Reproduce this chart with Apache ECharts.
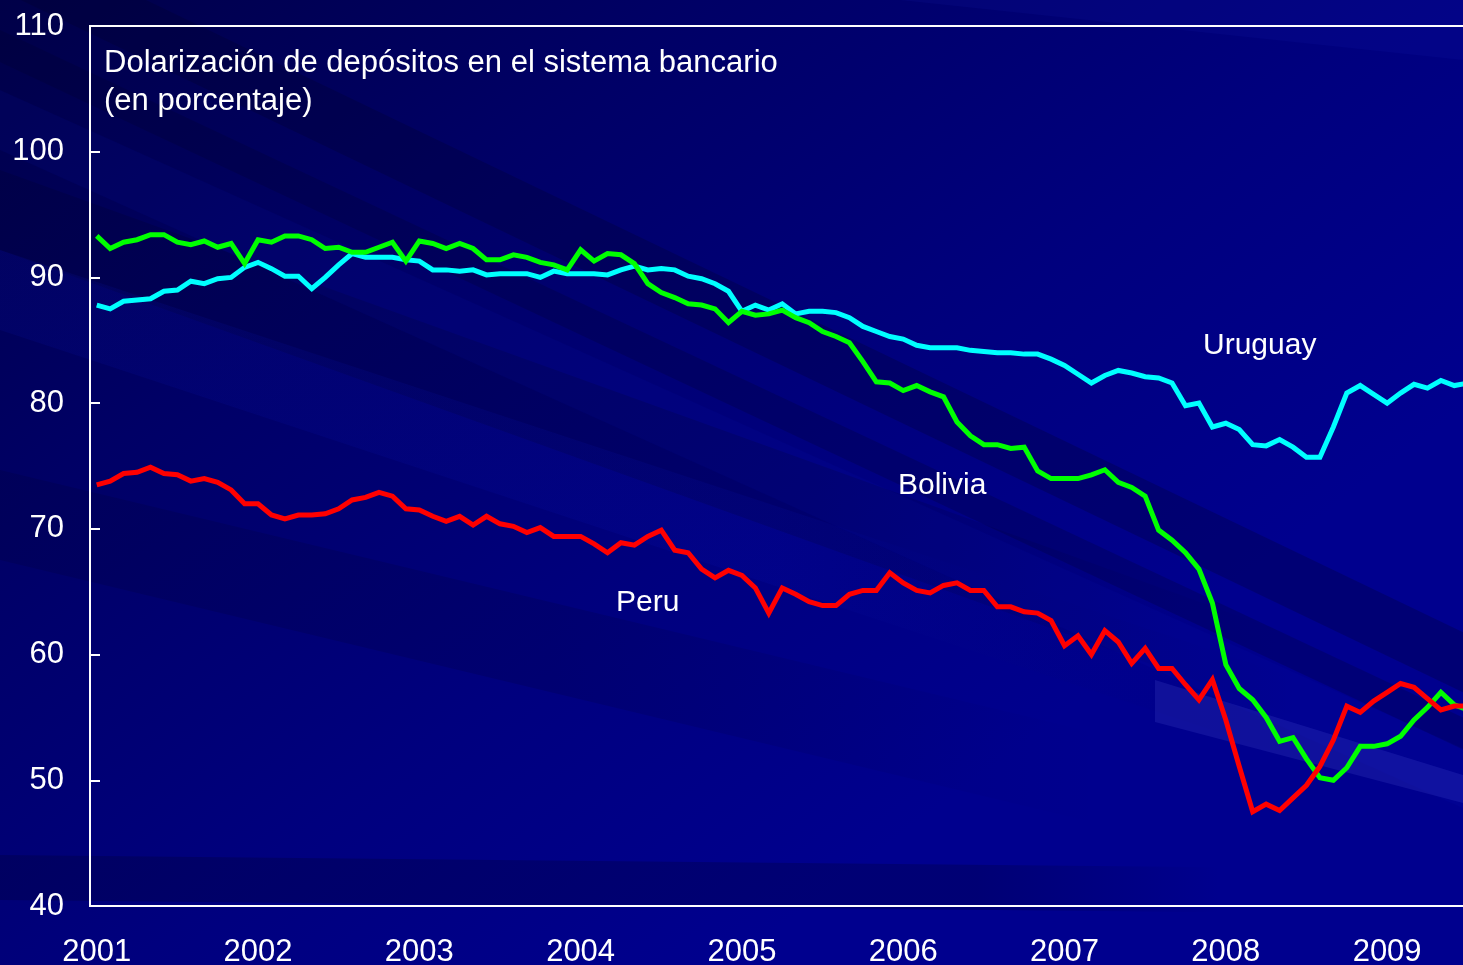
<!DOCTYPE html>
<html>
<head>
<meta charset="utf-8">
<title>Dolarización de depósitos</title>
<script src="https://cdn.jsdelivr.net/npm/echarts@6/dist/echarts.min.js"></script>
<style>
  html, body { margin: 0; padding: 0; background: #000070; }
  #chart { width: 1463px; height: 965px; }
</style>
</head>
<body>
<div id="chart"></div>
<script>
// Monthly deposit dollarization, January 2001 – July 2009 (percent)
const years = ['2001', '2002', '2003', '2004', '2005', '2006', '2007', '2008', '2009'];
const monthsInLastYear = 7;

const uruguay = [
  87.8, 87.5, 88.1, 88.2, 88.3, 88.9, 89.0, 89.7, 89.5, 89.9, 90.0, 90.8,
  91.2, 90.7, 90.1, 90.1, 89.1, 90.0, 91.0, 91.9, 91.6, 91.6, 91.6, 91.4,
  91.3, 90.6, 90.6, 90.5, 90.6, 90.2, 90.3, 90.3, 90.3, 90.0, 90.5, 90.3,
  90.3, 90.3, 90.2, 90.6, 90.9, 90.6, 90.7, 90.6, 90.1, 89.9, 89.5, 88.9,
  87.3, 87.8, 87.4, 87.9, 87.1, 87.3, 87.3, 87.2, 86.8, 86.1, 85.7, 85.3,
  85.1, 84.6, 84.4, 84.4, 84.4, 84.2, 84.1, 84.0, 84.0, 83.9, 83.9, 83.5,
  83.0, 82.3, 81.6, 82.2, 82.6, 82.4, 82.1, 82.0, 81.6, 79.8, 80.0, 78.1,
  78.4, 77.9, 76.7, 76.6, 77.1, 76.5, 75.7, 75.7, 78.1, 80.8, 81.4, 80.7,
  80.0, 80.8, 81.5, 81.2, 81.8, 81.4, 81.6
];

const bolivia = [
  93.3, 92.3, 92.8, 93.0, 93.4, 93.4, 92.8, 92.6, 92.9, 92.4, 92.7, 91.1,
  93.0, 92.8, 93.3, 93.3, 93.0, 92.3, 92.4, 92.0, 92.0, 92.4, 92.8, 91.3,
  92.9, 92.7, 92.3, 92.7, 92.3, 91.4, 91.4, 91.8, 91.6, 91.2, 91.0, 90.6,
  92.2, 91.3, 91.9, 91.8, 91.1, 89.5, 88.8, 88.4, 87.9, 87.8, 87.5, 86.4,
  87.3, 87.0, 87.1, 87.4, 86.8, 86.4, 85.7, 85.3, 84.8, 83.3, 81.7, 81.6,
  81.0, 81.4, 80.9, 80.5, 78.5, 77.4, 76.7, 76.7, 76.4, 76.5, 74.6, 74.0,
  74.0, 74.0, 74.3, 74.7, 73.7, 73.3, 72.6, 69.9, 69.1, 68.1, 66.8, 64.1,
  59.2, 57.3, 56.4, 55.0, 53.1, 53.4, 51.7, 50.2, 50.0, 51.0, 52.7, 52.7,
  52.9, 53.5, 54.8, 55.8, 57.0, 56.0, 55.6
];

const peru = [
  73.5, 73.8, 74.4, 74.5, 74.9, 74.4, 74.3, 73.8, 74.0, 73.7, 73.1, 72.0,
  72.0, 71.1, 70.8, 71.1, 71.1, 71.2, 71.6, 72.3, 72.5, 72.9, 72.6, 71.6,
  71.5, 71.0, 70.6, 71.0, 70.3, 71.0, 70.4, 70.2, 69.7, 70.1, 69.4, 69.4,
  69.4, 68.8, 68.1, 68.9, 68.7, 69.4, 69.9, 68.3, 68.1, 66.8, 66.1, 66.7,
  66.3, 65.3, 63.3, 65.3, 64.8, 64.2, 63.9, 63.9, 64.8, 65.1, 65.1, 66.5,
  65.7, 65.1, 64.9, 65.5, 65.7, 65.1, 65.1, 63.8, 63.8, 63.4, 63.3, 62.7,
  60.7, 61.5, 60.0, 61.9, 61.0, 59.3, 60.5, 58.9, 58.9, 57.6, 56.4, 58.0,
  54.8, 51.1, 47.5, 48.1, 47.6, 48.6, 49.6, 51.1, 53.2, 55.9, 55.4, 56.3,
  57.0, 57.7, 57.4, 56.5, 55.6, 55.9, 55.9
];

const yTicks = { min: 40, max: 110, step: 10 };
const titleLines = ['Dolarización de depósitos en el sistema bancario', '(en porcentaje)'];
const seriesNames = ['Uruguay', 'Bolivia', 'Peru'];

// month categories "YYYY-MM"
const months = [];
years.forEach((y, yi) => {
  const n = yi === years.length - 1 ? monthsInLastYear : 12;
  for (let m = 1; m <= n; m++) months.push(y + '-' + String(m).padStart(2, '0'));
});

const W = 1463, H = 965;
const FONT = '"Liberation Sans", Arial, sans-serif';
const gridLeft = 90, gridTop = 26, gridHeight = 880;
const monthWidth = 161.3 / 12;
const gridWidth = monthWidth * months.length;

// diagonal light rays of the backdrop; "fade" lets a ray die out towards its right end
function band(y0a, y0b, slope, color, opts) {
  opts = opts || {};
  const x0 = opts.x0 || 0, x1 = opts.x1 || W;
  const fill = opts.fade
    ? new echarts.graphic.LinearGradient(0, 0, 1, 0, [
        { offset: 0, color: color },
        { offset: opts.fade, color: color },
        { offset: 1, color: 'rgba(0,0,40,0)' }
      ])
    : color;
  return {
    type: 'polygon', silent: true, z: -9,
    shape: { points: [[x0, y0a + slope * x0], [x1, y0a + slope * x1], [x1, y0b + slope * x1], [x0, y0b + slope * x0]] },
    style: { fill: fill }
  };
}

const backdrop = [
  {
    type: 'rect', silent: true, z: -10,
    shape: { x: 0, y: 0, width: W, height: H },
    style: {
      fill: new echarts.graphic.LinearGradient(0, 0, 0.5, 1, [
        { offset: 0, color: '#000048' },
        { offset: 0.35, color: '#000066' },
        { offset: 0.7, color: '#00007e' },
        { offset: 1, color: '#00008e' }
      ])
    }
  },
  band(170, 250, 0.36, 'rgba(0,0,40,0.22)', { x1: 1300, fade: 0.6 }),
  band(250, 330, 0.33, 'rgba(10,20,190,0.12)', { x1: 1300, fade: 0.6 }),
  band(-70, -10, 0.48, 'rgba(0,0,40,0.25)'),
  band(30, 62, 0.47, 'rgba(0,0,40,0.22)'),
  band(90, 150, 0.45, 'rgba(10,20,190,0.10)'),
  band(470, 560, 0.24, 'rgba(0,0,40,0.16)', { x1: 1100, fade: 0.5 }),
  band(855, 900, 0.01, 'rgba(0,0,40,0.25)', { x1: 1220, fade: 0.8 }),
  {
    type: 'polygon', silent: true, z: -8,
    shape: { points: [[1155, 680], [W, 775], [W, 803], [1155, 722]] },
    style: { fill: 'rgba(120,130,255,0.13)' }
  },
  {
    type: 'polygon', silent: true, z: -9,
    shape: { points: [[700, 0], [W, 0], [W, 60], [900, 0]] },
    style: { fill: 'rgba(30,40,200,0.10)' }
  }
];

// series name labels placed beside their lines
const nameLabels = [
  { text: seriesNames[0], x: 1203, y: 346 },
  { text: seriesNames[1], x: 898, y: 486 },
  { text: seriesNames[2], x: 616, y: 603 }
].map(d => ({
  type: 'text', silent: true, z: 10,
  x: d.x, y: d.y,
  style: { text: d.text, fill: '#ffffff', font: '30px ' + FONT, verticalAlign: 'middle' }
}));

const chart = echarts.init(document.getElementById('chart'), null, { renderer: 'canvas', width: W, height: H });

const lineSeries = (name, data, color) => ({
  name: name,
  type: 'line',
  data: data,
  symbol: 'none',
  smooth: false,
  z: 3,
  lineStyle: { color: color, width: 5, join: 'miter' },
  itemStyle: { color: color },
  animation: false
});

chart.setOption({
  backgroundColor: 'transparent',
  animation: false,
  textStyle: { fontFamily: FONT },
  title: {
    text: titleLines.join('\n'),
    left: 104,
    top: 44,
    padding: 0,
    textStyle: { color: '#ffffff', fontSize: 31, fontWeight: 'normal', fontFamily: FONT, lineHeight: 38 }
  },
  graphic: backdrop.concat(nameLabels),
  grid: {
    left: gridLeft,
    top: gridTop,
    width: gridWidth,
    height: gridHeight,
    containLabel: false,
    outerBoundsMode: 'none',
    show: true,
    borderColor: '#ffffff',
    borderWidth: 2,
    backgroundColor: 'transparent'
  },
  xAxis: {
    type: 'category',
    data: months,
    boundaryGap: true,
    axisLine: { lineStyle: { color: '#ffffff', width: 2 } },
    axisTick: {
      inside: true,
      length: 9,
      interval: (i) => i % 12 === 0,
      lineStyle: { color: '#ffffff', width: 2 }
    },
    axisLabel: {
      interval: (i) => i % 12 === 0,
      formatter: (v) => v.slice(0, 4),
      color: '#ffffff',
      fontSize: 31,
      fontFamily: FONT,
      margin: 31,
      hideOverlap: false
    },
    splitLine: { show: false }
  },
  yAxis: {
    type: 'value',
    min: yTicks.min,
    max: yTicks.max,
    interval: yTicks.step,
    axisLine: { show: true, lineStyle: { color: '#ffffff', width: 2 } },
    axisTick: { show: true, inside: true, length: 10, lineStyle: { color: '#ffffff', width: 2 } },
    axisLabel: { color: '#ffffff', fontSize: 31, fontFamily: FONT, margin: 26 },
    splitLine: { show: false }
  },
  series: [
    lineSeries(seriesNames[0], uruguay, '#00ffff'),
    lineSeries(seriesNames[1], bolivia, '#00ff00'),
    lineSeries(seriesNames[2], peru, '#ff0000')
  ]
});
</script>
</body>
</html>
